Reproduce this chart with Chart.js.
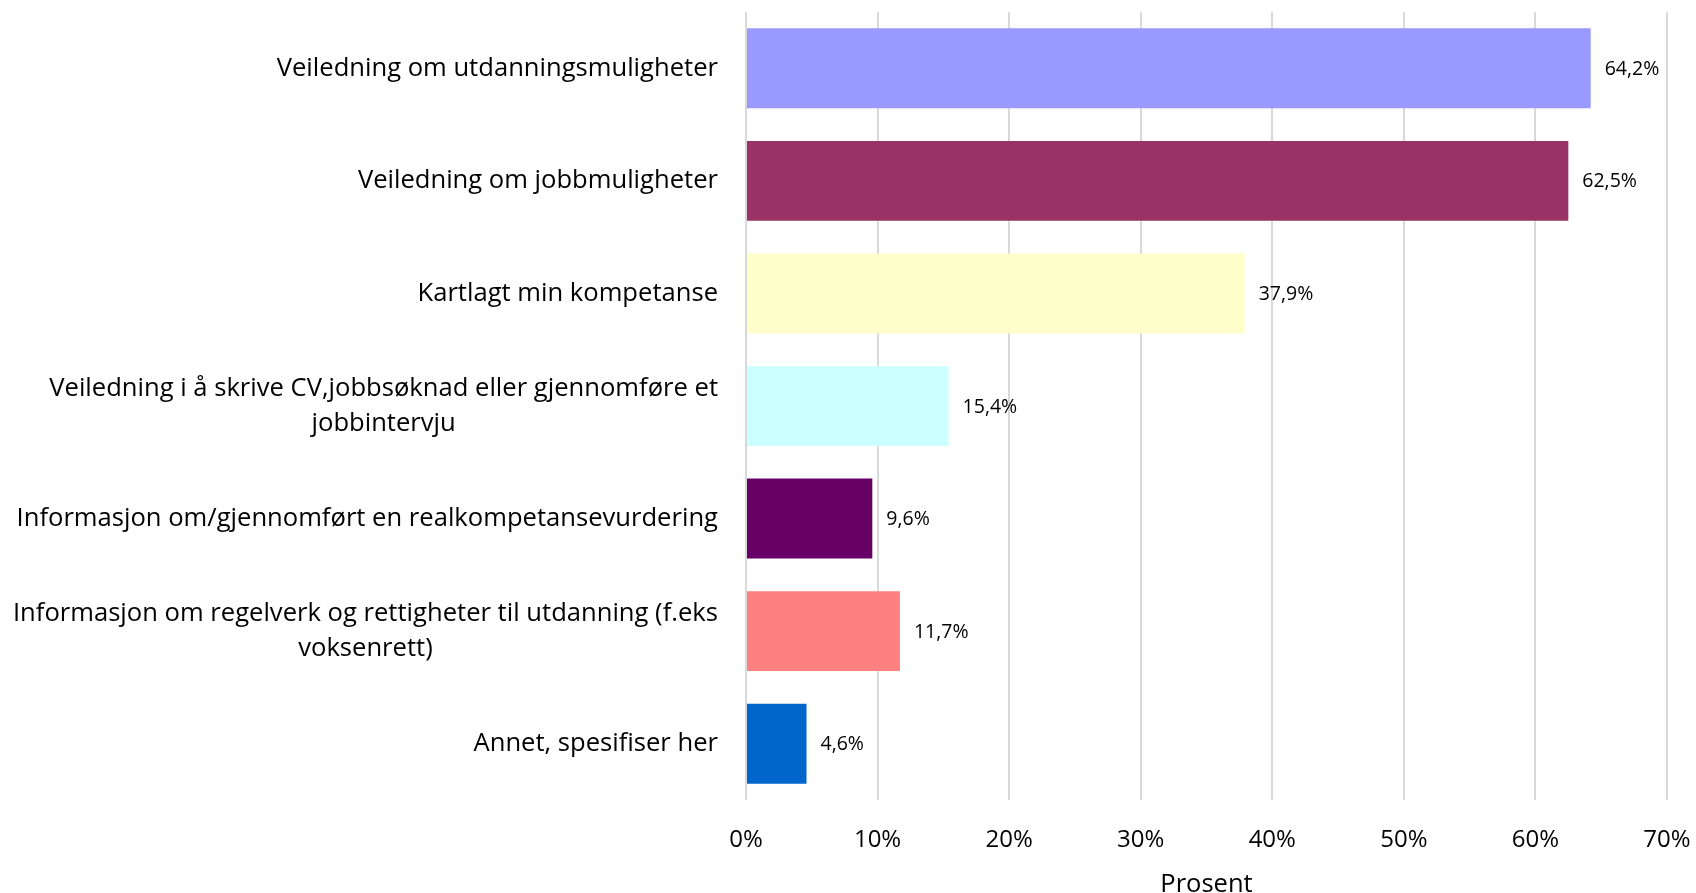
<!DOCTYPE html>
<html>
<head>
<meta charset="utf-8">
<script src="https://cdn.jsdelivr.net/npm/chart.js@4"></script>
<style>
  body { margin: 0; background: #fff; }
  #wrap { width: 1696px; height: 893px; }
</style>
</head>
<body>
<div id="wrap"><canvas id="chart"></canvas></div>
<script>
const categories = [
    ['Veiledning om utdanningsmuligheter'],
    ['Veiledning om jobbmuligheter'],
    ['Kartlagt min kompetanse'],
    ['Veiledning i å skrive CV,jobbsøknad eller gjennomføre et', 'jobbintervju'],
    ['Informasjon om/gjennomført en realkompetansevurdering'],
    ['Informasjon om regelverk og rettigheter til utdanning (f.eks', 'voksenrett)'],
    ['Annet, spesifiser her']
];
const values = [64.2, 62.5, 37.9, 15.4, 9.6, 11.7, 4.6];
const barColors = ['#9999FF', '#993366', '#FFFFCC', '#CCFFFF', '#660066', '#FF8080', '#0066CC'];
const axisTitle = 'Prosent';

const FONT = '"Open Sans", sans-serif';

function formatPct(v) {
    return v.toFixed(1).replace('.', ',') + '%';
}

// category labels: block right-aligned, lines centred inside the block
const catLabels = {
    id: 'catLabels',
    afterDraw(chart) {
        const ctx = chart.ctx;
        const y = chart.scales.y;
        const right = chart.chartArea.left - 28;
        const lineH = 35;
        ctx.save();
        ctx.font = '25.6px ' + FONT;
        ctx.fillStyle = '#000';
        ctx.textAlign = 'center';
        ctx.textBaseline = 'middle';
        for (let i = 0; i < categories.length; i++) {
            const lines = categories[i];
            let w = 0;
            for (let j = 0; j < lines.length; j++) {
                w = Math.max(w, ctx.measureText(lines[j]).width);
            }
            const cy = y.getPixelForTick(i);
            const top = cy - (lines.length - 1) * lineH / 2;
            for (let j = 0; j < lines.length; j++) {
                ctx.fillText(lines[j], right - w / 2, top + j * lineH);
            }
        }
        ctx.restore();
    }
};

const valueLabels = {
    id: 'valueLabels',
    afterDatasetsDraw(chart) {
        const ctx = chart.ctx;
        const meta = chart.getDatasetMeta(0);
        ctx.save();
        ctx.font = '19.5px ' + FONT;
        ctx.fillStyle = '#000';
        ctx.textAlign = 'left';
        ctx.textBaseline = 'middle';
        for (let i = 0; i < meta.data.length; i++) {
            const bar = meta.data[i];
            ctx.fillText(formatPct(values[i]), bar.x + 14, bar.y + 1);
        }
        ctx.restore();
    }
};

new Chart(document.getElementById('chart'), {
    type: 'bar',
    data: {
        labels: categories,
        datasets: [{
            data: values,
            backgroundColor: barColors,
            categoryPercentage: 1,
            barPercentage: 0.71
        }]
    },
    options: {
        indexAxis: 'y',
        responsive: true,
        maintainAspectRatio: false,
        animation: false,
        layout: { padding: { top: 12, right: 29, left: 0, bottom: 0 } },
        plugins: {
            legend: { display: false },
            tooltip: { enabled: false }
        },
        scales: {
            x: {
                min: 0,
                max: 70,
                ticks: {
                    stepSize: 10,
                    maxRotation: 0,
                    callback: function(v) { return v + '%'; },
                    font: { family: FONT, size: 24 },
                    color: '#000',
                    padding: 26
                },
                grid: { color: '#d9d9d9', lineWidth: 2, drawTicks: false },
                border: { display: false },
                title: {
                    display: true,
                    text: axisTitle,
                    font: { family: FONT, size: 25.5, lineHeight: 1 },
                    color: '#000',
                    padding: { top: 4, bottom: -4 }
                },
                afterFit: function(scale) {
                    scale.height = 93;
                    scale.paddingLeft = 0;
                    scale.paddingRight = 0;
                }
            },
            y: {
                ticks: { display: false },
                grid: { display: false },
                border: { display: false },
                afterFit: function(scale) { scale.width = 746; }
            }
        }
    },
    plugins: [catLabels, valueLabels]
});
</script>
</body>
</html>
